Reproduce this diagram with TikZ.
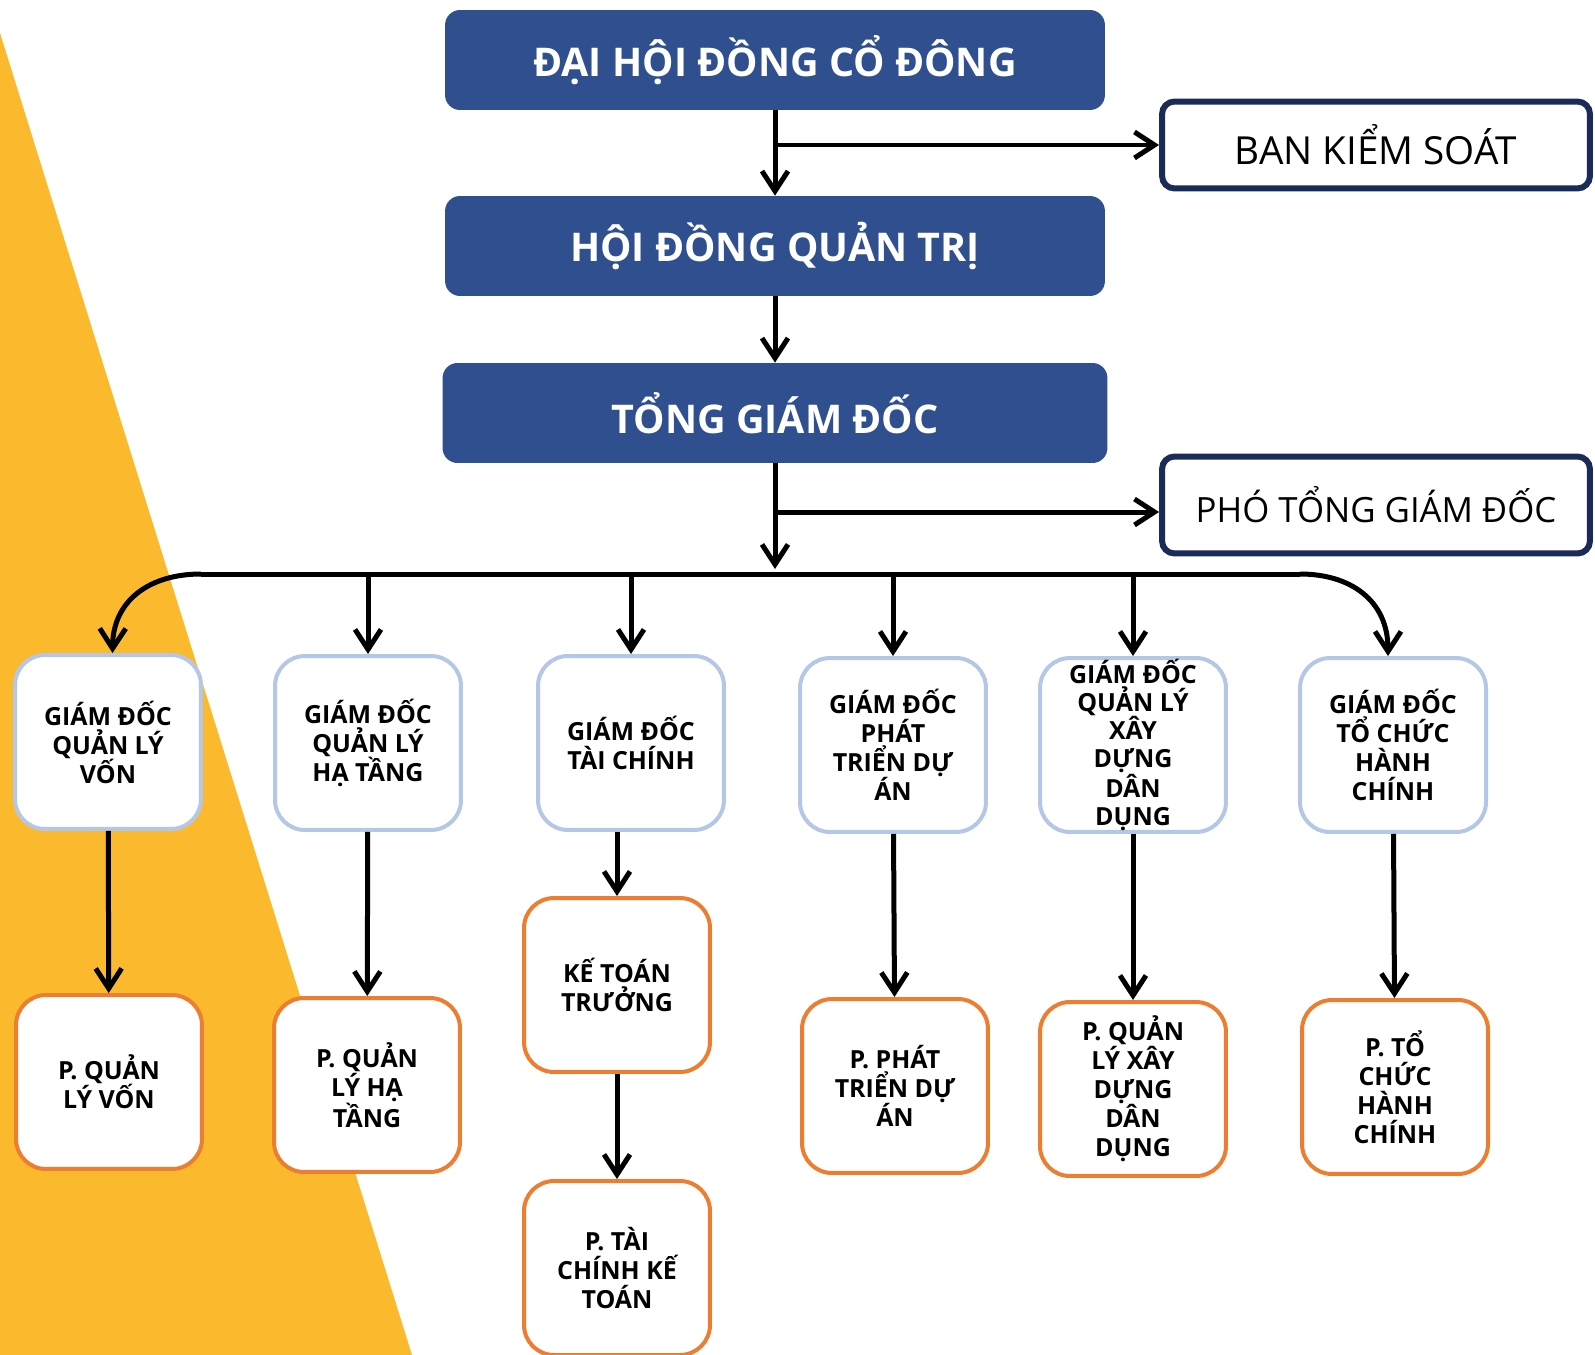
\documentclass[tikz,border=0pt]{standalone}
\usepackage{fontspec}
\setmainfont{Open Sans}
\usetikzlibrary{arrows.meta,positioning,calc}
\definecolor{hqblue}{HTML}{2F4F8E}
\definecolor{hqnavy}{HTML}{1B2B57}
\definecolor{hqyellow}{HTML}{FBBA2D}
\definecolor{hqlight}{HTML}{B4C7E7}
\definecolor{hqorange}{HTML}{ED7D31}

\begin{document}
\begin{tikzpicture}[x=0.02cm, y=-0.02cm,
    topbox/.style={rectangle, fill=hqblue, rounded corners=0.3cm, minimum width=13.2cm,
                 minimum height=2cm, text=white, font=\bfseries\fontsize{22.5}{26}\selectfont},
    sidebox/.style={rectangle, draw=hqnavy, line width=0.12cm, fill=white, rounded corners=0.25cm,
                 minimum width=8.56cm, minimum height=1.74cm, font=\fontsize{22}{26}\selectfont},
    gdbox/.style={rectangle, draw=hqlight, line width=0.08cm, fill=white, rounded corners=0.6cm,
                 minimum width=3.72cm, minimum height=3.48cm, inner sep=0pt, align=center,
                 font=\bfseries\fontsize{14.2}{16.5}\selectfont},
    phbox/.style={gdbox, draw=hqorange},
    arr/.style={-{Straight Barb[length=4mm, width=5.2mm]}, line width=0.1cm},
    link/.style={line width=0.1cm}
]
    \useasboundingbox (0,0) rectangle (1595,1355);
    \fill[white] (0,0) rectangle (1595,1355);
    \fill[hqyellow] (0,33) -- (412,1355) -- (0,1355) -- cycle;

    \node[topbox] (dhd) at (775,60) {ĐẠI HỘI ĐỒNG CỔ ĐÔNG};
    \node[topbox] (hdqt) at (775,246) {HỘI ĐỒNG QUẢN TRỊ};
    \node[topbox, minimum width=13.3cm] (tgd) at (775,413) {TỔNG GIÁM ĐỐC};
    \node[sidebox] (bks) at (1376,145) {BAN KIỂM SOÁT};
    \node[sidebox, minimum height=1.94cm, font=\fontsize{19.8}{24}\selectfont] (ptgd) at (1376,505) {PHÓ TỔNG GIÁM ĐỐC};

    \node[gdbox] (vA) at (108,742) {GIÁM ĐỐC\\QUẢN LÝ\\VỐN};
    \node[gdbox] (vB) at (368,743) {GIÁM ĐỐC\\QUẢN LÝ\\HẠ TẦNG};
    \node[gdbox] (vC) at (631,743) {GIÁM ĐỐC\\TÀI CHÍNH};
    \node[gdbox] (vD) at (893,745) {GIÁM ĐỐC\\PHÁT\\TRIỂN DỰ\\ÁN};
    \node[gdbox, font=\bfseries\fontsize{14.2}{16}\selectfont] (vE) at (1133,745) {GIÁM ĐỐC\\QUẢN LÝ\\XÂY\\DỰNG\\DÂN\\DỤNG};
    \node[gdbox] (vF) at (1393,745) {GIÁM ĐỐC\\TỔ CHỨC\\HÀNH\\CHÍNH};

    \node[phbox] (pA) at (109,1082) {P. QUẢN\\LÝ VỐN};
    \node[phbox] (pB) at (367,1085) {P. QUẢN\\LÝ HẠ\\TẦNG};
    \node[phbox] (ktt) at (617,985) {KẾ TOÁN\\TRƯỞNG};
    \node[phbox] (pC) at (617,1268) {P. TÀI\\CHÍNH KẾ\\TOÁN};
    \node[phbox] (pD) at (895,1086) {P. PHÁT\\TRIỂN DỰ\\ÁN};
    \node[phbox] (pE) at (1133,1089) {P. QUẢN\\LÝ XÂY\\DỰNG\\DÂN\\DỤNG};
    \node[phbox] (pF) at (1395,1087) {P. TỔ\\CHỨC\\HÀNH\\CHÍNH};

    \draw[arr] (dhd) -- (hdqt);
    \draw[arr] (dhd.south |- bks.west) -- (bks.west);
    \draw[arr] (hdqt) -- (tgd);
    \draw[arr] ([yshift=-0.14cm]tgd.south |- ptgd.west) -- ([yshift=-0.14cm]ptgd.west);

    \coordinate (busL) at (201,574);
    \coordinate (busR) at (1300,574);
    \draw[arr] (tgd.south) -- ([yshift=0.1cm]tgd.south |- busL);
    \draw[link] (busL) -- (busR);
    \draw[arr] (busL) .. controls (150,574) and (113,600) .. ([xshift=0.09cm]vA.north);
    \draw[arr] (busR) .. controls (1350,574) and (1388,600) .. ([xshift=-0.1cm]vF.north);
    \foreach \n in {vB,vC,vD,vE}
        \draw[arr] (\n.north |- busL) -- (\n.north);

    \draw[arr] (vA) -- (pA);
    \draw[arr] (vB) -- (pB);
    \draw[arr] (vC.south -| ktt.north) -- (ktt);
    \draw[arr] (ktt) -- (pC);
    \draw[arr] (vD) -- (pD);
    \draw[arr] (vE) -- (pE);
    \draw[arr] (vF) -- (pF);
\end{tikzpicture}
\end{document}
